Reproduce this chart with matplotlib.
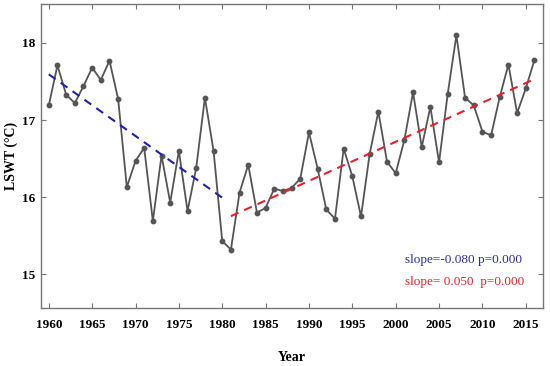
import matplotlib
matplotlib.use("Agg")
import matplotlib.pyplot as plt
import numpy as np

# yearly lake surface water temperature
years = np.arange(1960, 2017)
lswt = [17.19, 17.71, 17.33, 17.22, 17.44, 17.68, 17.52, 17.77, 17.27, 16.13,
        16.47, 16.64, 15.69, 16.54, 15.93, 16.60, 15.82, 16.38, 17.29, 16.60,
        15.43, 15.32, 16.06, 16.42, 15.80, 15.86, 16.11, 16.08, 16.12, 16.24,
        16.84, 16.37, 15.84, 15.72, 16.63, 16.27, 15.75, 16.56, 17.11, 16.46,
        16.31, 16.74, 17.36, 16.65, 17.17, 16.45, 17.34, 18.10, 17.29, 17.19,
        16.85, 16.80, 17.30, 17.72, 17.09, 17.41, 17.78]
lswt = np.array(lswt)

# two trend periods
p1 = (1960, 1980)
p2 = (1981, 2016)
txt1 = "slope=-0.080 p=0.000"
txt2 = "slope= 0.050  p=0.000"

plt.rcParams['font.family'] = ['Liberation Serif', 'DejaVu Serif']

fig = plt.figure(figsize=(5.5, 3.66), dpi=100)
ax = fig.add_axes([0.0745, 0.158, 0.913, 0.830])

ax.plot(years, lswt, '-o', color='#555555', lw=1.3, ms=3.2)

for (a, b), c in [(p1, '#1f1fb0'), (p2, '#e8202a')]:
    m = (years >= a) & (years <= b)
    k = np.polyfit(years[m], lswt[m], 1)
    xx = np.array([a, b])
    ax.plot(xx, np.polyval(k, xx), '--', color=c, lw=1.5, dashes=(4, 3))

ax.text(0.725, 0.158, txt1, color='#2a2ab0', fontsize=9.5, transform=ax.transAxes,
        va='center')
ax.text(0.725, 0.086, txt2, color='#e8202a', fontsize=9.5, transform=ax.transAxes,
        va='center')

ax.set_xlim(1959.1, 2017.0)
ax.set_ylim(14.56, 18.5)
ax.set_xticks(range(1960, 2016, 5))
ax.set_yticks([15, 16, 17, 18])
ax.tick_params(direction='in', top=True, right=True, length=3.5, width=0.8,
               color='#777777', labelsize=9.5)
ax.tick_params(axis='x', pad=8)
ax.tick_params(axis='y', pad=4)
for lab in ax.get_xticklabels() + ax.get_yticklabels():
    lab.set_fontweight('bold')
for s in ax.spines.values():
    s.set_color('#777777')
    s.set_linewidth(1.0)

ax.set_xlabel('Year', fontsize=10, fontweight='bold', labelpad=14)
ax.set_ylabel('LSWT (°C)', fontsize=10, fontweight='bold', labelpad=3)

fig.savefig('out.png', dpi=100)
